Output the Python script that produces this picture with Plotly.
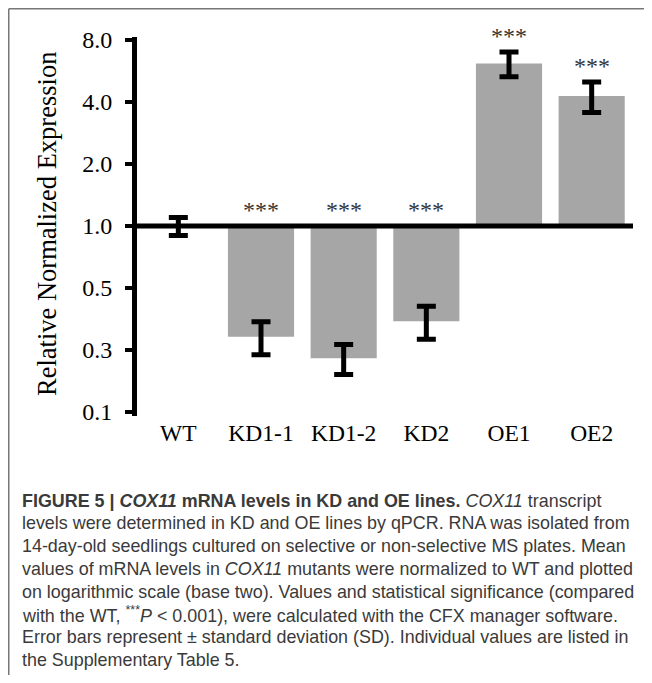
import math
import plotly.graph_objects as go

categories = ["WT", "KD1-1", "KD1-2", "KD2", "OE1", "OE2"]
expression = [1.0, 0.29, 0.228, 0.345, 6.15, 4.28]
sd = [0.10, 0.053, 0.038, 0.063, 0.85, 0.72]
significance = ["", "***", "***", "***", "***", "***"]
tick_values = [0.125, 0.25, 0.5, 1, 2, 4, 8]
tick_labels = ["0.1", "0.3", "0.5", "1.0", "2.0", "4.0", "8.0"]

caption_lines = [
    "<b>FIGURE 5 | <i>COX11</i> mRNA levels in KD and OE lines.</b> <i>COX11</i> transcript",
    "levels were determined in KD and OE lines by qPCR. RNA was isolated from",
    "14-day-old seedlings cultured on selective or non-selective MS plates. Mean",
    "values of mRNA levels in <i>COX11</i> mutants were normalized to WT and plotted",
    "on logarithmic scale (base two). Values and statistical significance (compared",
    "with the WT, <sup>***</sup><i>P</i> &lt; 0.001), were calculated with the CFX manager software.",
    "Error bars represent ± standard deviation (SD). Individual values are listed in",
    "the Supplementary Table 5.",
]

# page body margin offsets the figure by 8px on every side
OFF = 8
W, H = 652 - OFF, 683 - 2 * OFF
# plot area in page pixels
L, R, T, B = 137, 633, 37, 416
PW, PH = R - L, B - T


def px(xp):
    return (xp - L) / PW


def py(yp):
    return (B - yp) / PH


serif = "Liberation Serif, Times New Roman, serif"
sans = "Liberation Sans, Arial, sans-serif"

fig = go.Figure()
fig.add_trace(go.Bar(
    x=categories,
    y=[v - 1 for v in expression],
    base=[1] * len(expression),
    width=0.8,
    marker=dict(color="#A6A6A6", line=dict(width=0)),
    showlegend=False,
    hoverinfo="skip",
))
fig.add_trace(go.Scatter(
    x=categories,
    y=expression,
    mode="markers",
    marker=dict(size=1, color="rgba(0,0,0,0)"),
    error_y=dict(type="data", array=sd, visible=True, color="black", thickness=5, width=9.5),
    showlegend=False,
    hoverinfo="skip",
))

annotations = []
for c, v, s, sig in zip(categories, expression, sd, significance):
    if sig:
        annotations.append(dict(
            x=c, y=math.log10(max(1.0, v + s)), xref="x", yref="y",
            text=sig, showarrow=False, yanchor="bottom", xanchor="center",
            yshift=1,
            font=dict(family=serif, size=24, color="#333333"),
        ))

annotations.append(dict(
    x=px(47), y=py(224), xref="paper", yref="paper",
    text="Relative Normalized Expression", textangle=-90, showarrow=False,
    xanchor="center", yanchor="middle",
    font=dict(family=serif, size=26.5, color="black"),
))

for i, line in enumerate(caption_lines):
    annotations.append(dict(
        x=px(20), y=py(500.7 + i * 22.7), xref="paper", yref="paper",
        text=line, showarrow=False, xanchor="left", yanchor="middle",
        font=dict(family=sans, size=17.9, color="#3a3a3a"),
    ))

shapes = [
    dict(type="line", xref="x", yref="y", x0=-0.5, x1=5.5, y0=1, y1=1,
         line=dict(color="black", width=5), layer="above"),
    dict(type="line", xref="paper", yref="paper", x0=px(8.75), x1=px(660), y0=py(8.75), y1=py(8.75),
         line=dict(color="#777777", width=1.5)),
    dict(type="line", xref="paper", yref="paper", x0=px(8.75), x1=px(8.75), y0=py(8.75), y1=py(700),
         line=dict(color="#777777", width=1.5)),
]

ylo = -3 - 4 / 62
yhi = 3 + 3 / 62
fig.update_layout(
    width=W, height=H,
    margin=dict(l=L - OFF, r=652 - R, t=T - OFF, b=H - (B - OFF), pad=0),
    paper_bgcolor="white", plot_bgcolor="white",
    annotations=annotations, shapes=shapes,
    bargap=0.2,
    xaxis=dict(
        range=[-0.5, 5.5], showline=False, showgrid=False, zeroline=False,
        ticks="", tickfont=dict(family=serif, size=23.5, color="black"),
        fixedrange=True,
    ),
    yaxis=dict(
        type="log", range=[ylo * math.log10(2), yhi * math.log10(2)],
        tickvals=tick_values, ticktext=tick_labels,
        showline=True, linecolor="black", linewidth=5,
        ticks="outside", ticklen=7, tickwidth=4, tickcolor="black",
        ticklabelstandoff=8,
        showgrid=False, zeroline=False,
        tickfont=dict(family=serif, size=24, color="black"),
        fixedrange=True,
    ),
)

fig.write_html("out.html")
